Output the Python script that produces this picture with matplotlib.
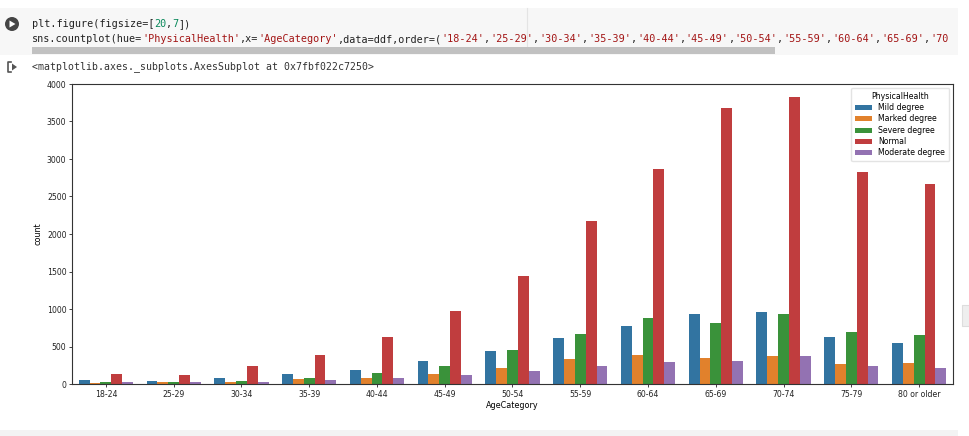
import numpy as np
import matplotlib.pyplot as plt
from matplotlib.patches import Rectangle, Ellipse, Polygon

ages = ['18-24', '25-29', '30-34', '35-39', '40-44', '45-49', '50-54',
        '55-59', '60-64', '65-69', '70-74', '75-79', '80 or older']
health = ['Mild degree', 'Marked degree', 'Severe degree', 'Normal', 'Moderate degree']
mild = [53, 40, 84, 128, 190, 310, 439, 611, 771, 939, 957, 625, 549]
marked = [13, 27, 27, 66, 84, 128, 217, 332, 390, 346, 372, 266, 275]
severe = [27, 27, 40, 84, 146, 235, 456, 665, 882, 815, 930, 695, 656]
normal = [129, 120, 244, 381, 625, 979, 1436, 2168, 2860, 3680, 3821, 2820, 2673]
moderate = [22, 27, 27, 53, 75, 120, 173, 244, 297, 310, 372, 244, 213]
yticks = [0, 500, 1000, 1500, 2000, 2500, 3000, 3500, 4000]

colors = ['#3274a1', '#e1812c', '#3a923a', '#c03d3e', '#9372b2']

W, H = 970, 436


def fx(x):
    return x / W


def fy(y):
    return 1 - y / H


fig = plt.figure(figsize=(W / 100, H / 100), dpi=100)
fig.patch.set_facecolor('white')

# notebook code cell
fig.patches.append(Rectangle((0, fy(55)), fx(958), fy(8) - fy(55), transform=fig.transFigure,
                             facecolor='#f7f7f7', edgecolor='none', zorder=0))
fig.patches.append(Rectangle((fx(32), fy(54)), fx(775) - fx(32), fy(47) - fy(54), transform=fig.transFigure,
                             facecolor='#c1c1c1', edgecolor='none', zorder=1))
fig.add_artist(plt.Line2D([fx(527), fx(527)], [fy(8), fy(46)], transform=fig.transFigure,
                          color='#e4e4e4', lw=0.8))
fig.patches.append(Ellipse((fx(12), fy(24)), 14 / W, 14 / H, transform=fig.transFigure,
                           facecolor='#454545', edgecolor='none', zorder=2))
fig.patches.append(Polygon([(fx(9.5), fy(20.5)), (fx(9.5), fy(27.5)), (fx(15.5), fy(24))],
                           transform=fig.transFigure, facecolor='white', edgecolor='none', zorder=3))

# code text, token by token in monospace
code_ax = fig.add_axes([0, fy(60), fx(958), fy(8) - fy(60)], zorder=5)
code_ax.set_axis_off()
code_ax.set_xlim(0, 958)
code_ax.set_ylim(60, 8)
cw = 6.11
fs = 7.3
black, strc, numc = '#222222', '#a31515', '#09885a'
line1 = [('plt.figure(figsize=[', black), ('20', numc), (',', black), ('7', numc), ('])', black)]
order_toks = []
for a in ages[:10]:
    order_toks += [("'" + a + "'", strc), (',', black)]
order_toks += [("'70", strc)]
line2 = [('sns.countplot(hue=', black), ("'PhysicalHealth'", strc), (',x=', black),
         ("'AgeCategory'", strc), (',data=ddf,order=(', black)] + order_toks
for toks, yy in [(line1, 24), (line2, 39)]:
    n = 0
    for s, c in toks:
        code_ax.text(32 + n * cw, yy, s, family='DejaVu Sans Mono', fontsize=fs,
                     color=c, va='center', ha='left')
        n += len(s)

# output marker and repr line
ox, oy = 12, 67
fig.add_artist(plt.Line2D([fx(ox - 1), fx(ox - 4), fx(ox - 4), fx(ox - 1)],
                          [fy(oy - 5), fy(oy - 5), fy(oy + 5), fy(oy + 5)],
                          transform=fig.transFigure, color='#555555', lw=1.2))
fig.patches.append(Polygon([(fx(ox), fy(oy - 3.5)), (fx(ox), fy(oy + 3.5)), (fx(ox + 5), fy(oy))],
                           transform=fig.transFigure, facecolor='#555555', edgecolor='none'))
fig.text(fx(32), fy(67), '<matplotlib.axes._subplots.AxesSubplot at 0x7fbf022c7250>',
         family='DejaVu Sans Mono', fontsize=7.1, color='#333333', va='center', ha='left')

# bottom strip and right scroll button
fig.patches.append(Rectangle((0, 0), fx(958), fy(430), transform=fig.transFigure,
                             facecolor='#f3f3f3', edgecolor='none'))
fig.patches.append(Rectangle((fx(962), fy(326)), fx(9), fy(305) - fy(326), transform=fig.transFigure,
                             facecolor='#eeeeee', edgecolor='#dddddd', lw=0.8))

# chart
ax = fig.add_axes([fx(72), fy(384), fx(953) - fx(72), fy(84) - fy(384)])
series = [mild, marked, severe, normal, moderate]
x = np.arange(len(ages))
bw = 0.8 / len(health)
for i, (vals, c, name) in enumerate(zip(series, colors, health)):
    ax.bar(x + (i - 2) * bw, vals, width=bw, color=c, label=name)

ax.set_xlim(-0.5, len(ages) - 0.5)
ax.set_ylim(0, 4000)
ax.set_yticks(yticks)
ax.set_xticks(x)
ax.set_xticklabels(ages)
ax.tick_params(labelsize=5.6, length=2.5, width=0.6, pad=1.5, colors='#222222')
for sp in ax.spines.values():
    sp.set_linewidth(0.8)
    sp.set_color('#333333')
ax.set_xlabel('AgeCategory', fontsize=5.8, labelpad=1.5)
ax.set_ylabel('count', fontsize=5.8, labelpad=3)
leg = ax.legend(title='PhysicalHealth', fontsize=5.6, title_fontsize=5.6, loc='upper right',
                handlelength=2.2, handleheight=0.6, labelspacing=0.3, borderpad=0.5,
                framealpha=0.8, edgecolor='#dddddd')

fig.savefig('out.png', dpi=100)
